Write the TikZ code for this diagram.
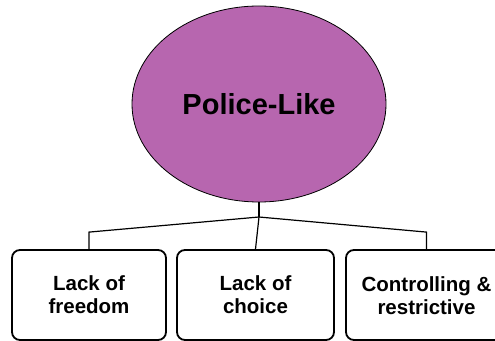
\documentclass[tikz,border=0pt]{standalone}
\usepackage{fontspec}
\setmainfont{Liberation Sans}
\usetikzlibrary{shapes.geometric,calc}
\definecolor{plum}{RGB}{183,102,175}
\begin{document}
\begin{tikzpicture}[x=1pt,y=1pt,
  hub/.style={ellipse,draw=black,line width=0.8pt,fill=plum,
    minimum width=254pt,minimum height=196pt,inner sep=0pt,
    font=\fontsize{29}{33}\selectfont\bfseries},
  leaf/.style={draw=black,line width=1.8pt,rounded corners=8pt,fill=white,
    minimum height=90pt,inner sep=0pt,align=center,
    font=\fontsize{20.5}{23}\selectfont\bfseries},
  leaftext/.style={inner sep=0pt,align=center,
    font=\fontsize{20.5}{23}\selectfont\bfseries},
  link/.style={draw=black,line width=1.2pt}]
\useasboundingbox (0,0) rectangle (495,340);
\node[hub] (hub) at (259,236) {Police-Like};
\node[leaf,minimum width=154pt] (b1) at (89,45) {Lack of\\freedom};
\node[leaf,minimum width=157pt] (b2) at (255.5,45) {Lack of\\choice};
% the last box runs past the right edge, so its text sits in its own node
\node[leaf,minimum width=170pt] (b3) at (431,45) {};
\node[leaftext] (t3) at (426.5,44.5) {Controlling \&\\restrictive};
\coordinate (j) at (259,123);
\coordinate (b3top) at (t3 |- b3.north);
\path[link] (hub.south) -- (j);
\path[link] (j) -- ($(b1.north)+(0,17)$) -- (b1.north);
\path[link] (j) -- (b2.north);
\path[link] (j) -- ($(b3top)+(0,17)$) -- (b3top);
\end{tikzpicture}
\end{document}
